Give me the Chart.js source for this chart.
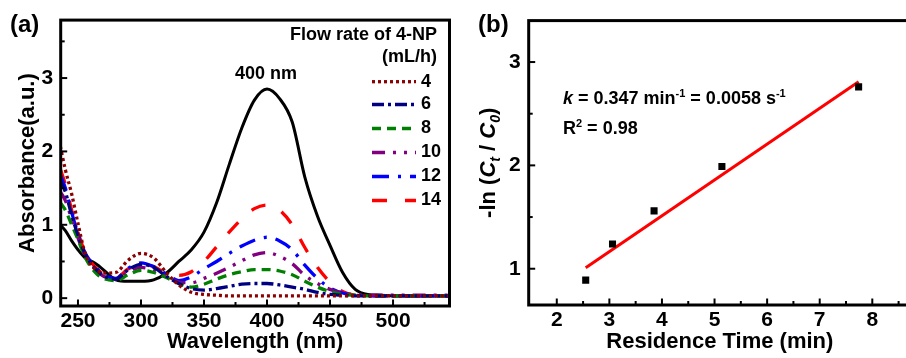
<!DOCTYPE html>
<html>
<head>
<meta charset="utf-8">
<script src="https://cdn.jsdelivr.net/npm/chart.js@4.4.1/dist/chart.umd.min.js"></script>
<style>
    html, body { margin: 0; padding: 0; background: #fff; overflow: hidden; }
    #wrap { position: relative; width: 906px; height: 358px; overflow: hidden; }
    #chart-spectra { position: absolute; left: 0; top: 0; }
    #chart-kinetics { position: absolute; left: 470px; top: 0; }
</style>
</head>
<body>
<div id="wrap">
    <canvas id="chart-spectra" width="470" height="358"></canvas>
    <canvas id="chart-kinetics" width="446" height="358"></canvas>
</div>
<script>
(function () {
    'use strict';

    // ---------------------------------------------------------------
    // Data (a): UV-vis spectra, absorbance vs wavelength
    // ---------------------------------------------------------------
    const WAVELENGTH = [236, 240, 245, 250, 255, 260, 265, 270, 280, 290, 300, 310, 320, 330, 340, 350,
        360, 370, 380, 390, 400, 410, 420, 430, 440, 450, 460, 470, 480, 490, 500, 520, 545];

    // 4-NP before reaction (black, not in legend)
    const ABS_INITIAL = [1.00, 0.92, 0.78, 0.66, 0.56, 0.51, 0.46, 0.39, 0.25, 0.23, 0.23, 0.25, 0.34, 0.50, 0.66, 0.90,
        1.30, 1.82, 2.32, 2.70, 2.85, 2.72, 2.40, 1.65, 1.12, 0.72, 0.35, 0.12, 0.05, 0.04, 0.03, 0.03, 0.03];

    const FLOW_RATES = ['4', '6', '8', '10', '12', '14'];

    const ABS_FLOW_4 = [2.07, 1.75, 1.42, 1.02, 0.65, 0.46, 0.38, 0.34, 0.35, 0.52, 0.61, 0.55, 0.35, 0.18, 0.08, 0.05,
        0.04, 0.03, 0.03, 0.03, 0.03, 0.03, 0.03, 0.03, 0.03, 0.03, 0.03, 0.03, 0.03, 0.03, 0.03, 0.03, 0.03];
    const ABS_FLOW_6 = [1.60, 1.45, 1.13, 0.86, 0.63, 0.48, 0.38, 0.31, 0.26, 0.39, 0.46, 0.42, 0.30, 0.20, 0.13, 0.11,
        0.13, 0.16, 0.19, 0.20, 0.20, 0.18, 0.15, 0.12, 0.08, 0.05, 0.04, 0.03, 0.03, 0.03, 0.03, 0.03, 0.03];
    const ABS_FLOW_8 = [1.30, 1.20, 1.00, 0.80, 0.58, 0.43, 0.33, 0.27, 0.24, 0.32, 0.38, 0.35, 0.28, 0.20, 0.15, 0.19,
        0.26, 0.32, 0.36, 0.39, 0.39, 0.37, 0.32, 0.23, 0.15, 0.09, 0.05, 0.04, 0.03, 0.03, 0.03, 0.03, 0.03];
    const ABS_FLOW_10 = [1.45, 1.33, 1.08, 0.82, 0.60, 0.46, 0.37, 0.30, 0.26, 0.36, 0.42, 0.38, 0.30, 0.22, 0.21, 0.27,
        0.34, 0.42, 0.51, 0.59, 0.62, 0.57, 0.47, 0.31, 0.20, 0.12, 0.07, 0.05, 0.04, 0.04, 0.04, 0.04, 0.04];
    const ABS_FLOW_12 = [1.68, 1.50, 1.17, 0.88, 0.64, 0.50, 0.40, 0.32, 0.27, 0.41, 0.48, 0.43, 0.33, 0.24, 0.29, 0.40,
        0.50, 0.61, 0.71, 0.79, 0.83, 0.78, 0.66, 0.45, 0.27, 0.14, 0.07, 0.04, 0.03, 0.03, 0.03, 0.03, 0.03];
    const ABS_FLOW_14 = [1.76, 1.55, 1.20, 0.90, 0.65, 0.50, 0.40, 0.33, 0.28, 0.40, 0.46, 0.43, 0.34, 0.31, 0.36, 0.50,
        0.70, 0.90, 1.08, 1.22, 1.27, 1.20, 1.00, 0.69, 0.42, 0.22, 0.09, 0.04, 0.03, 0.03, 0.03, 0.03, 0.03];

    const A_X_TICKS = [250, 275, 300, 325, 350, 375, 400, 425, 450, 475, 500, 525];
    const A_Y_TICKS = [0, 0.5, 1, 1.5, 2, 2.5, 3, 3.5];

    // ---------------------------------------------------------------
    // Data (b): pseudo-first-order kinetics
    // ---------------------------------------------------------------
    const RES_TIME = [2.55, 3.06, 3.85, 5.14, 7.74];
    const LN_RATIO = [0.89, 1.24, 1.56, 1.99, 2.76];
    const FIT_X = [2.55, 7.74];
    const FIT_Y = [1.01, 2.81];

    const B_X_TICKS = [2, 2.5, 3, 3.5, 4, 4.5, 5, 5.5, 6, 6.5, 7, 7.5, 8, 8.5];
    const B_Y_TICKS = [1, 1.5, 2, 2.5, 3];

    const FONT = "'Liberation Sans', Arial, sans-serif";
    Chart.defaults.font.family = FONT;
    Chart.defaults.color = '#000';

    const pairs = (xs, ys) => xs.map((x, i) => ({ x: x, y: ys[i] }));

    // kotak bingkai + tick ke dalam (major/minor)
    const frameTicks = {
        id: 'frameTicks',
        afterDatasetsDraw(chart) {
            const { ctx, chartArea: a, scales } = chart;
            ctx.save();
            ctx.strokeStyle = '#000';
            ctx.lineWidth = 2;
            scales.x.ticks.forEach(t => {
                const px = scales.x.getPixelForValue(t.value);
                const len = t.label !== '' ? 6.5 : 4;
                ctx.beginPath();
                ctx.moveTo(px, a.bottom);
                ctx.lineTo(px, a.bottom - len);
                ctx.stroke();
            });
            scales.y.ticks.forEach(t => {
                const py = scales.y.getPixelForValue(t.value);
                const len = t.label !== '' ? 6.5 : 4;
                ctx.beginPath();
                ctx.moveTo(a.left, py);
                ctx.lineTo(a.left + len, py);
                ctx.stroke();
            });
            ctx.lineWidth = 3;
            ctx.strokeRect(a.left, a.top, a.right - a.left, a.bottom - a.top);
            ctx.restore();
        }
    };

    // teks dengan italic / subscript / superscript
    function runsWidth(ctx, runs) {
        let w = 0;
        runs.forEach(r => {
            ctx.font = (r.italic ? 'italic ' : '') + 'bold ' + r.size + 'px ' + FONT;
            w += ctx.measureText(r.text).width;
        });
        return w;
    }
    function drawRuns(ctx, runs, x, y) {
        let cx = x;
        runs.forEach(r => {
            ctx.font = (r.italic ? 'italic ' : '') + 'bold ' + r.size + 'px ' + FONT;
            ctx.fillText(r.text, cx, y + (r.dy || 0));
            cx += ctx.measureText(r.text).width;
        });
    }

    const tickFont = { size: 21, weight: 'bold', lineHeight: 1.2 };
    const titleFont = { size: 22, weight: 'bold', lineHeight: 1 };

    // ---------------------------------------------------------------
    // Chart (a)
    // ---------------------------------------------------------------
    const spectraSeries = [
        { label: FLOW_RATES[0], data: ABS_FLOW_4, color: '#8B0000', dash: [3, 3] },
        { label: FLOW_RATES[1], data: ABS_FLOW_6, color: '#000080', dash: [12, 4, 3, 4] },
        { label: FLOW_RATES[2], data: ABS_FLOW_8, color: '#008000', dash: [9, 6] },
        { label: FLOW_RATES[3], data: ABS_FLOW_10, color: '#800080', dash: [13, 8, 3, 8, 3, 8] },
        { label: FLOW_RATES[4], data: ABS_FLOW_12, color: '#0000FF', dash: [17, 9, 3, 9] },
        { label: FLOW_RATES[5], data: ABS_FLOW_14, color: '#FF0000', dash: [15, 18] },
    ];

    const spectraText = {
        id: 'spectraText',
        afterDraw(chart) {
            const ctx = chart.ctx;
            ctx.save();
            ctx.fillStyle = '#000';
            ctx.textBaseline = 'alphabetic';
            ctx.font = 'bold 24px ' + FONT;
            ctx.fillText('(a)', 10, 32);

            ctx.font = 'bold 18px ' + FONT;
            ctx.textAlign = 'center';
            ctx.fillText('400 nm', 266, 79);

            ctx.textAlign = 'right';
            ctx.fillText('Flow rate of 4-NP', 437, 40);
            ctx.fillText('(mL/h)', 437, 62);

            const rowY = [81.7, 104.5, 128.5, 152.5, 176.5, 200.5];
            ctx.textAlign = 'left';
            ctx.textBaseline = 'middle';
            chart.data.datasets.forEach((ds, i) => {
                if (!ds.inLegend) return;
                const y = rowY[i];
                ctx.save();
                ctx.strokeStyle = ds.borderColor;
                ctx.lineWidth = ds.borderWidth;
                ctx.setLineDash(ds.borderDash);
                ctx.beginPath();
                ctx.moveTo(372, y);
                ctx.lineTo(416, y);
                ctx.stroke();
                ctx.restore();
                ctx.fillText(ds.label, 421, y);
            });
            ctx.restore();
        }
    };

    const spectraDatasets = spectraSeries.map(s => ({
        label: s.label,
        data: pairs(WAVELENGTH, s.data),
        borderColor: s.color,
        borderDash: s.dash,
        borderWidth: 3.3,
        inLegend: true,
    }));
    spectraDatasets.push({
        label: 'initial',
        data: pairs(WAVELENGTH, ABS_INITIAL),
        borderColor: '#000',
        borderWidth: 3,
        borderDash: [],
        inLegend: false,
    });

    new Chart(document.getElementById('chart-spectra'), {
        type: 'line',
        data: { datasets: spectraDatasets },
        options: {
            responsive: false,
            animation: false,
            layout: { padding: { top: 14.7, right: 20.5, left: 0, bottom: 0 } },
            elements: { point: { radius: 0 }, line: { cubicInterpolationMode: 'monotone', fill: false } },
            plugins: { legend: { display: false }, tooltip: { enabled: false } },
            scales: {
                x: {
                    type: 'linear',
                    min: 236.3,
                    max: 544.8,
                    afterFit(s) { s.height = 52; },
                    afterBuildTicks(s) { s.ticks = A_X_TICKS.map(v => ({ value: v })); },
                    grid: { display: false, drawTicks: false },
                    border: { display: false },
                    ticks: {
                        callback: v => (v % 50 === 0 ? String(v) : ''),
                        font: tickFont, color: '#000', padding: 3,
                        autoSkip: false, maxRotation: 0, minRotation: 0,
                    },
                    title: { display: true, text: 'Wavelength (nm)', font: titleFont, color: '#000', padding: { top: 0, bottom: 5 } },
                },
                y: {
                    min: -0.107,
                    max: 3.79,
                    afterFit(s) { s.width = 60.7; },
                    afterBuildTicks(s) { s.ticks = A_Y_TICKS.map(v => ({ value: v })); },
                    grid: { display: false, drawTicks: false },
                    border: { display: false },
                    ticks: {
                        callback: v => (Number.isInteger(v) ? String(v) : ''),
                        font: tickFont, color: '#000', padding: 7.5, autoSkip: false,
                    },
                    title: { display: true, text: 'Absorbance(a.u.)', font: titleFont, color: '#000', padding: { top: 17, bottom: 0 } },
                },
            },
        },
        plugins: [frameTicks, spectraText],
    });

    // ---------------------------------------------------------------
    // Chart (b)
    // ---------------------------------------------------------------
    const kineticsText = {
        id: 'kineticsText',
        afterDraw(chart) {
            const ctx = chart.ctx;
            ctx.save();
            ctx.fillStyle = '#000';
            ctx.textBaseline = 'alphabetic';
            ctx.font = 'bold 24px ' + FONT;
            ctx.fillText('(b)', 8, 32);

            drawRuns(ctx, [
                { text: 'k', size: 18, italic: true },
                { text: ' = 0.347 min', size: 18 },
                { text: '-1', size: 11, dy: -7 },
                { text: ' = 0.0058 s', size: 18 },
                { text: '-1', size: 11, dy: -7 },
            ], 93, 104);
            drawRuns(ctx, [
                { text: 'R', size: 18 },
                { text: '2', size: 11, dy: -7 },
                { text: ' = 0.98', size: 18 },
            ], 93, 134);

            // judul sumbu y: -ln (Ct / C0)
            const runs = [
                { text: '-ln (', size: 22 },
                { text: 'C', size: 22, italic: true },
                { text: 't', size: 14, italic: true, dy: 5 },
                { text: ' / ', size: 22 },
                { text: 'C', size: 22, italic: true },
                { text: '0', size: 14, italic: true, dy: 5 },
                { text: ')', size: 22 },
            ];
            const w = runsWidth(ctx, runs);
            ctx.translate(25, (chart.chartArea.top + chart.chartArea.bottom) / 2);
            ctx.rotate(-Math.PI / 2);
            drawRuns(ctx, runs, -w / 2, 0);
            ctx.restore();
        }
    };

    new Chart(document.getElementById('chart-kinetics'), {
        type: 'scatter',
        data: {
            datasets: [
                {
                    label: 'data',
                    data: pairs(RES_TIME, LN_RATIO),
                    pointStyle: 'rect',
                    pointRadius: 5,
                    backgroundColor: '#000',
                    borderColor: '#000',
                    borderWidth: 0,
                },
                {
                    label: 'fit',
                    data: pairs(FIT_X, FIT_Y),
                    showLine: true,
                    borderColor: '#FF0000',
                    borderWidth: 3,
                    pointRadius: 0,
                },
            ],
        },
        options: {
            responsive: false,
            animation: false,
            layout: { padding: { top: 14.7, right: 2, left: 0, bottom: 0 } },
            plugins: { legend: { display: false }, tooltip: { enabled: false } },
            scales: {
                x: {
                    type: 'linear',
                    min: 1.466,
                    max: 8.736,
                    afterFit(s) { s.height = 53; },
                    afterBuildTicks(s) { s.ticks = B_X_TICKS.map(v => ({ value: v })); },
                    grid: { display: false, drawTicks: false },
                    border: { display: false },
                    ticks: {
                        callback: v => (Number.isInteger(v) ? String(v) : ''),
                        font: tickFont, color: '#000', padding: 3,
                        autoSkip: false, maxRotation: 0, minRotation: 0,
                    },
                    title: { display: true, text: 'Residence Time (min)', font: titleFont, color: '#000', padding: { top: 0, bottom: 5 } },
                },
                y: {
                    min: 0.649,
                    max: 3.401,
                    afterFit(s) { s.width = 58.7; },
                    afterBuildTicks(s) { s.ticks = B_Y_TICKS.map(v => ({ value: v })); },
                    grid: { display: false, drawTicks: false },
                    border: { display: false },
                    ticks: {
                        callback: v => (Number.isInteger(v) ? String(v) : ''),
                        font: tickFont, color: '#000', padding: 8, autoSkip: false,
                    },
                },
            },
        },
        plugins: [frameTicks, kineticsText],
    });
})();
</script>
</body>
</html>
